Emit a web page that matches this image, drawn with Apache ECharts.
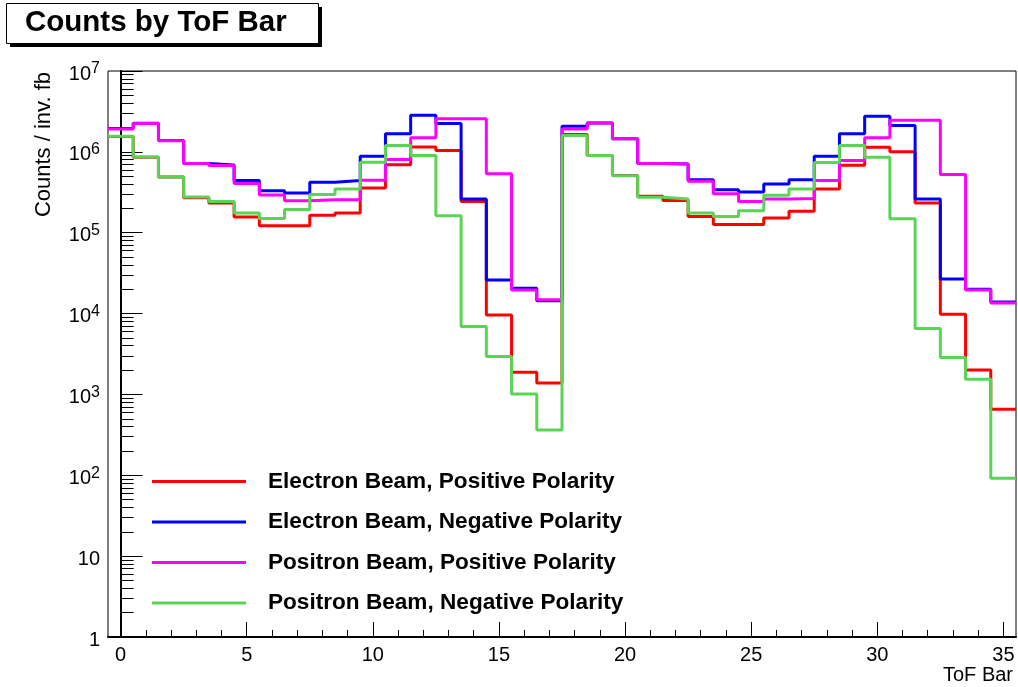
<!DOCTYPE html>
<html>
<head>
<meta charset="utf-8">
<title>Counts by ToF Bar</title>
<script src="https://cdn.jsdelivr.net/npm/echarts@6/dist/echarts.min.js"></script>
<style>
  html, body { margin: 0; padding: 0; background: #fff; }
  #chart { width: 1018px; height: 687px; }
</style>
</head>
<body>
<div id="chart"></div>
<script>
// ToF bar numbers (one histogram bin per bar)
const bins = Array.from({ length: 36 }, (_, i) => i)
// x tick labels / y minor ticks (2..9 per decade)
const xTicks = [0, 5, 10, 15, 20, 25, 30, 35]
const yMinorTicks = [1, 10, 100, 1e3, 1e4, 1e5, 1e6].flatMap(d => [2, 3, 4, 5, 6, 7, 8, 9].map(k => k * d))

const seriesNames = [
  'Electron Beam, Positive Polarity',
  'Electron Beam, Negative Polarity',
  'Positron Beam, Positive Polarity',
  'Positron Beam, Negative Polarity'
]
const seriesColors = ['#ff0000', '#0000ff', '#ff00ff', '#59d454']

// counts / inv. fb
const elecPos = [1.55e6, 8.6e5, 4.9e5, 2.7e5, 2.33e5, 1.56e5, 1.22e5, 1.22e5, 1.64e5, 1.75e5, 3.58e5, 6.95e5,
  1.15e6, 1.04e6, 2.44e5, 9.6e3, 1.88e3, 1.38e3, 1.64e6, 9.0e5, 5.1e5, 2.82e5, 2.51e5, 1.59e5,
  1.26e5, 1.26e5, 1.52e5, 1.84e5, 3.48e5, 6.82e5, 1.14e6, 1.0e6, 2.33e5, 9.8e3, 2.0e3, 655]
const elecNeg = [1.95e6, 2.26e6, 1.38e6, 7.2e5, 6.9e5, 4.41e5, 3.31e5, 3.1e5, 4.2e5, 4.41e5, 8.81e5, 1.68e6,
  2.84e6, 2.24e6, 2.61e5, 2.6e4, 2.05e4, 1.44e4, 2.07e6, 2.28e6, 1.45e6, 7.2e5, 7.1e5, 4.53e5,
  3.41e5, 3.19e5, 4.01e5, 4.53e5, 8.81e5, 1.67e6, 2.76e6, 2.12e6, 2.61e5, 2.67e4, 2.0e4, 1.39e4]
const posiPos = [1.92e6, 2.24e6, 1.37e6, 7.16e5, 6.76e5, 4.05e5, 2.93e5, 2.49e5, 2.56e5, 2.56e5, 4.44e5, 8.02e5,
  1.49e6, 2.56e6, 2.56e6, 5.38e5, 1.95e4, 1.48e4, 1.92e6, 2.28e6, 1.45e6, 7.16e5, 7.1e5, 4.32e5,
  3.04e5, 2.44e5, 2.61e5, 2.64e5, 4.41e5, 7.8e5, 1.49e6, 2.46e6, 2.46e6, 5.23e5, 1.95e4, 1.35e4]
const posiNeg = [1.56e6, 8.66e5, 4.9e5, 2.77e5, 2.44e5, 1.75e5, 1.5e5, 1.93e5, 2.96e5, 3.48e5, 7.43e5, 1.2e6,
  8.99e5, 1.62e5, 6.91e3, 2.94e3, 1.01e3, 363, 1.59e6, 8.99e5, 5.08e5, 2.74e5, 2.61e5, 1.75e5,
  1.59e5, 1.87e5, 2.9e5, 3.48e5, 7.36e5, 1.2e6, 8.57e5, 1.49e5, 6.56e3, 2.86e3, 1.54e3, 91.6]

const FONT = '"Liberation Sans", Arial, Helvetica, sans-serif'

// histogram outline: one point at each bin's low edge, plus the last high edge
function histPoints(vals) {
  const pts = bins.map((b, i) => [b - 0.5, vals[i]])
  pts.push([bins[bins.length - 1] + 0.5, vals[vals.length - 1]])
  return pts
}

// 1, 10, 10^2 ... labels like ROOT
function logLabel(v) {
  const e = Math.round(Math.log10(v))
  if (e === 0) return '{b|1}'
  if (e === 1) return '{b|10}'
  return '{b|10}{s|' + e + '}'
}

const chart = echarts.init(document.getElementById('chart'), null, { renderer: 'canvas' })

const option = {
  animation: false,
  backgroundColor: '#fff',
  title: {
    text: 'Counts by ToF Bar',
    left: 25,
    top: 7.5,
    padding: 0,
    z: 10,
    textStyle: { fontFamily: FONT, fontWeight: 'bold', fontSize: 29.5, lineHeight: 30, color: '#000' }
  },
  grid: {
    left: 108,
    right: 2,
    top: 71,
    bottom: 50,
    containLabel: false,
    outerBoundsMode: 'none',
    show: true,
    borderColor: '#000',
    borderWidth: 1,
    backgroundColor: 'transparent'
  },
  legend: {
    orient: 'vertical',
    left: 152,
    top: 470,
    padding: 0,
    icon: 'rect',
    itemWidth: 94,
    itemHeight: 3,
    itemGap: 17.5,
    selectedMode: false,
    data: seriesNames,
    textStyle: {
      fontFamily: FONT, fontWeight: 'bold', fontSize: 22.6, lineHeight: 22, color: '#000',
      padding: [0, 0, 0, 17]
    }
  },
  graphic: [
    // title box with its shadow
    { type: 'rect', z: 1, shape: { x: 10, y: 7, width: 312, height: 40 }, style: { fill: '#000' } },
    { type: 'rect', z: 2, shape: { x: 6.5, y: 3.5, width: 312, height: 40 }, style: { fill: '#fff', stroke: '#000', lineWidth: 1 } },
    {
      // y axis title, right-aligned to the top of the frame
      type: 'text',
      x: 44,
      y: 72,
      rotation: Math.PI / 2,
      style: {
        text: 'Counts / inv. fb',
        font: '22px ' + FONT,
        fill: '#000',
        align: 'right',
        verticalAlign: 'middle'
      }
    }
  ],
  xAxis: [
    {
      type: 'value',
      position: 'bottom',
      min: -0.5,
      max: 35.5,
      name: 'ToF Bar',
      nameLocation: 'end',
      nameGap: -3,
      nameMoveOverlap: false,
      nameTextStyle: {
        fontFamily: FONT, fontSize: 20, lineHeight: 20, color: '#000',
        align: 'right', verticalAlign: 'top', padding: [28, 0, 0, 0]
      },
      axisLine: { show: true, onZero: false, lineStyle: { color: '#000', width: 2 } },
      axisTick: { show: true, inside: true, length: 15, customValues: xTicks, lineStyle: { color: '#000', width: 1 } },
      axisLabel: { show: true, customValues: xTicks, margin: 8, fontFamily: FONT, fontSize: 20, color: '#000' },
      splitLine: { show: false }
    },
    {
      // minor ticks, one per bar
      type: 'value',
      position: 'bottom',
      min: -0.5,
      max: 35.5,
      axisLine: { show: false },
      axisTick: { show: true, inside: true, length: 7, customValues: bins, lineStyle: { color: '#000', width: 1 } },
      axisLabel: { show: false },
      splitLine: { show: false }
    }
  ],
  yAxis: [
    {
      type: 'log',
      logBase: 10,
      position: 'left',
      min: 1,
      max: 1e7,
      splitNumber: 7,
      axisLine: { show: true, lineStyle: { color: '#000', width: 2 } },
      axisTick: { show: true, inside: true, length: 22, lineStyle: { color: '#000', width: 1 } },
      axisLabel: {
        show: true,
        margin: 8,
        formatter: logLabel,
        rich: {
          b: { fontFamily: FONT, fontSize: 20, lineHeight: 20, padding: [6, 0, 0, 0], color: '#000' },
          s: { fontFamily: FONT, fontSize: 16, lineHeight: 16, verticalAlign: 'top', color: '#000' }
        }
      },
      splitLine: { show: false }
    },
    {
      // minor ticks 2..9 in each decade
      type: 'log',
      logBase: 10,
      position: 'left',
      min: 1,
      max: 1e7,
      axisLine: { show: false },
      axisTick: { show: true, inside: true, length: 13, customValues: yMinorTicks, lineStyle: { color: '#000', width: 1 } },
      axisLabel: { show: false },
      splitLine: { show: false }
    }
  ],
  series: [elecPos, elecNeg, posiPos, posiNeg].map((vals, k) => ({
    name: seriesNames[k],
    type: 'line',
    xAxisIndex: 0,
    yAxisIndex: 0,
    step: 'end',
    symbol: 'none',
    color: seriesColors[k],
    lineStyle: { color: seriesColors[k], width: 3 },
    emphasis: { disabled: true },
    data: histPoints(vals)
  }))
}

chart.setOption(option)
</script>
</body>
</html>
